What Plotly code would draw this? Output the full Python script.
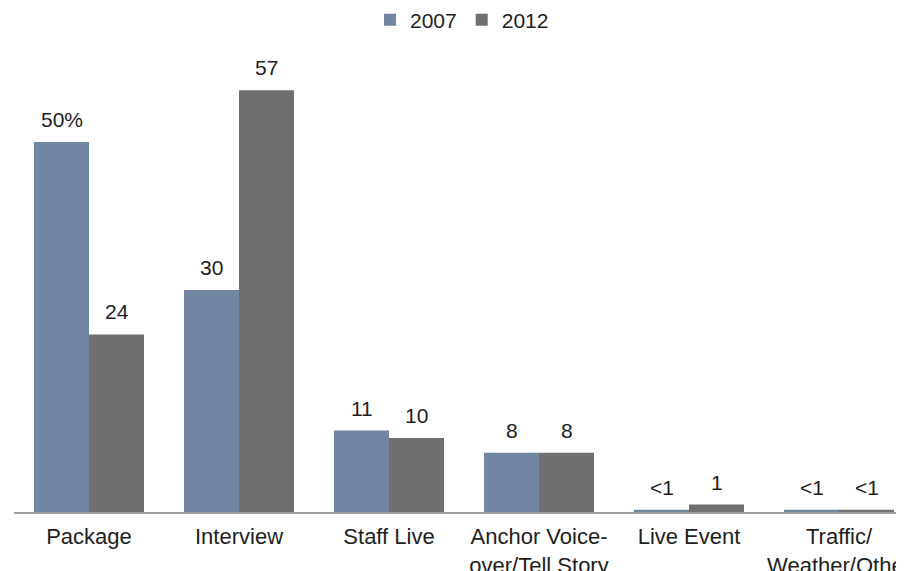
import plotly.graph_objects as go

categories = ["Package", "Interview", "Staff Live", "Anchor Voice-<br>over/Tell Story",
              "Live Event", "Traffic/<br>Weather/Other"]
values_2007 = [50, 30, 11, 8, 0.3, 0.3]
values_2012 = [24, 57, 10, 8, 1, 0.3]
labels_2007 = ["50%", "30", "11", "8", "<1", "<1"]
labels_2012 = ["24", "57", "10", "8", "1", "<1"]

COLOR_2007 = "#7186A0"
COLOR_2012 = "#716F70"
TEXT = "#1E1E1E"
FONT = "Liberation Sans, Arial, sans-serif"

# page body has an 8px margin; figure sits at (8, 8)
OFF = 8
W, H = 904 - OFF, 571 - OFF
ML, MR, MT, MB = 14 - OFF, 0, 50 - OFF, 59
plot_w = W - ML - MR
plot_h = H - MT - MB
cat_px = 150.0
px_per_unit = 7.4

fig = go.Figure()
fig.add_trace(go.Bar(name="2007", x=categories, y=values_2007, marker_color=COLOR_2007,
                     marker_line_width=0))
fig.add_trace(go.Bar(name="2012", x=categories, y=values_2012, marker_color=COLOR_2012,
                     marker_line_width=0))

half = cat_px * (1 - 40 / 150) / 4
annotations = []
for cat, v, lab in zip(categories, values_2007, labels_2007):
    annotations.append(dict(x=cat, y=v, xref="x", yref="y", text=lab, showarrow=False,
                            xshift=-half, yshift=9, yanchor="bottom",
                            font=dict(family=FONT, size=21, color=TEXT)))
for cat, v, lab in zip(categories, values_2012, labels_2012):
    annotations.append(dict(x=cat, y=v, xref="x", yref="y", text=lab, showarrow=False,
                            xshift=half, yshift=9, yanchor="bottom",
                            font=dict(family=FONT, size=21, color=TEXT)))

fig.update_layout(
    width=W, height=H,
    margin=dict(l=ML, r=MR, t=MT, b=MB, pad=0, autoexpand=False),
    paper_bgcolor="white", plot_bgcolor="white",
    barmode="group", bargap=40 / 150, bargroupgap=0,
    font=dict(family=FONT, size=21, color=TEXT),
    showlegend=True,
    legend=dict(orientation="h", x=(462 - 14) / plot_w, xanchor="center",
                y=1 + 30 / plot_h, yanchor="middle",
                font=dict(family=FONT, size=21, color=TEXT),
                itemwidth=30, tracegroupgap=0, bgcolor="rgba(0,0,0,0)"),
    annotations=annotations,
    xaxis=dict(range=[-0.5, plot_w / cat_px - 0.5], showline=True, linecolor="#A0A0A0",
               linewidth=2, ticks="", showgrid=False, zeroline=False, automargin=False,
               ticklabelstandoff=4, tickfont=dict(family=FONT, size=22, color=TEXT),
               fixedrange=True),
    yaxis=dict(range=[0, plot_h / px_per_unit], visible=False, showgrid=False,
               zeroline=False, automargin=False, fixedrange=True),
)

fig.write_html("out.html")
